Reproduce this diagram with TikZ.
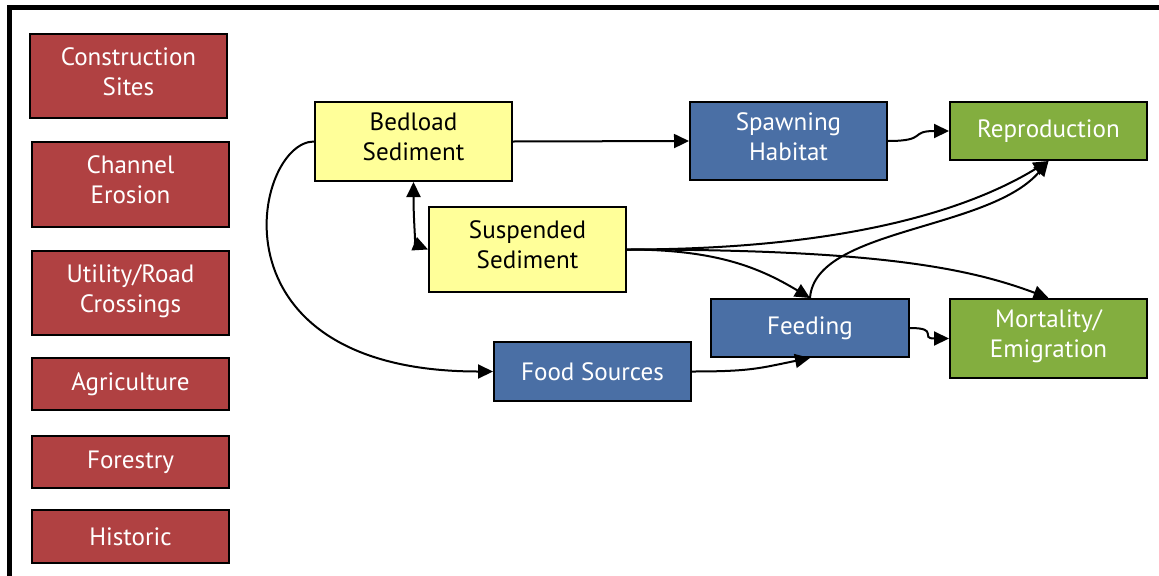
\documentclass[tikz,border=0pt]{standalone}
\usepackage{fontspec}
\setmainfont{PT Sans}
\usepackage{xcolor}
\usepackage{tikz}
\usetikzlibrary{arrows.meta}

\definecolor{srcred}{RGB}{176,65,66}
\definecolor{midblue}{RGB}{74,111,165}
\definecolor{endgreen}{RGB}{131,174,63}
\definecolor{sedyellow}{RGB}{255,255,153}

\begin{document}
\begin{tikzpicture}[
			x=0.75pt, y=-0.75pt,
			% Define the style for the nodes
			every node/.style={rectangle, draw, line width=1.5pt, minimum width=147.75pt,
				align=center, font=\fontsize{18.8pt}{22.5pt}\selectfont, inner sep=0pt},
			source/.style={fill=srcred, text=white},
			sediment/.style={fill=sedyellow, text=black},
			process/.style={fill=midblue, text=white},
			outcome/.style={fill=endgreen, text=white},
			twoline/.style={text depth=7pt},
			link/.style={line width=1.5pt, -{Triangle[length=11.25pt, width=10.5pt]}}
			]
			\useasboundingbox (0,0) rectangle (1159,575);
			\draw[line width=3.75pt] (9.5,600) -- (9.5,7.5) -- (1200,7.5);
			
			\node (cons) at (128.5, 76) [source, twoline, minimum height=63pt] {Construction\\Sites};
			\node (chan) at (130.5, 184.5) [source, twoline, minimum height=63.75pt] {Channel\\Erosion};
			\node (util) at (130.5, 293) [source, twoline, minimum height=63pt] {Utility/Road\\Crossings};
			\node (agri) at (130.5, 384) [source, minimum height=39pt] {Agriculture};
			\node (fore) at (130.5, 462) [source, minimum height=39pt] {Forestry};
			\node (hist) at (130.5, 536.5) [source, minimum height=39.75pt] {Historic};
			
			\node (bed) at (413.5, 141.5) [sediment, twoline, minimum height=59.25pt] {Bedload\\Sediment};
			\node (susp) at (527.5, 249.5) [sediment, twoline, minimum height=63.75pt] {Suspended\\Sediment};
			\node (spawn) at (788.5, 141) [process, twoline, minimum height=58.5pt] {Spawning\\Habitat};
			\node (feed) at (810, 328) [process, minimum height=43.5pt, minimum width=148.5pt] {Feeding};
			\node (food) at (592.5, 371.5) [process, minimum height=44.25pt] {Food Sources};
			\node (repro) at (1048.5, 131) [outcome, minimum height=43.5pt] {Reproduction};
			\node (mort) at (1048.5, 338.5) [outcome, twoline, minimum height=59.25pt] {Mortality/\\Emigration};
			
			\draw[link] (bed.east) -- (spawn.west);
			\draw[link] (bed.west) .. controls +(-60,0) and +(-290,0) .. (food.west);
			\draw[link, {Triangle[length=11.25pt, width=10.5pt]}-{Triangle[length=11.25pt, width=10.5pt]}] (bed.south) .. controls +(0,40) and +(-12,-5) .. (susp.west);
			\draw[link] (spawn.east) .. controls +(40,0) and +(-40,0) .. (repro.west);
			\draw[link] (susp.east) .. controls +(200,0) and +(-90,55) .. (repro.south);
			\draw[link] (susp.east) .. controls +(90,0) and +(-50,-30) .. (feed.north);
			\draw[link] (susp.east) .. controls +(250,0) and +(-80,-30) .. (mort.north);
			\draw[link] (feed.north) .. controls +(5,-70) and +(-60,70) .. (repro.south);
			\draw[link] (food.east) .. controls +(60,0) and +(-50,10) .. (feed.south);
			\draw[link] (feed.east) .. controls +(30,0) and +(-30,0) .. (mort.west);
			
		\end{tikzpicture}
\end{document}
